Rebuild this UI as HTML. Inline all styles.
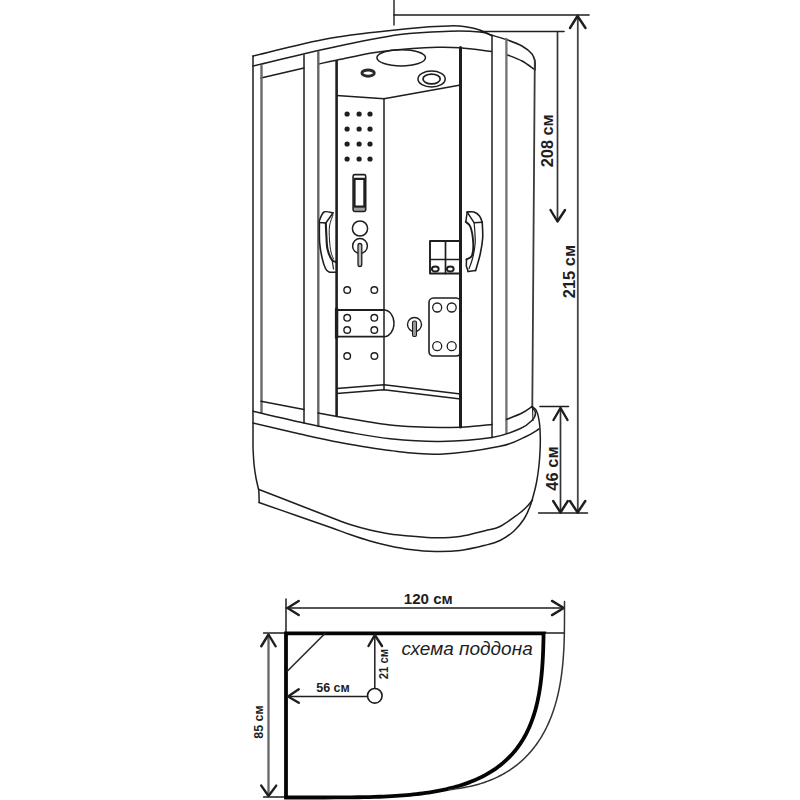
<!DOCTYPE html>
<html><head><meta charset="utf-8"><title>shower</title>
<style>
html,body{margin:0;padding:0;background:#fff;}
body{width:800px;height:800px;overflow:hidden;}
svg{display:block;font-family:"Liberation Sans",sans-serif;}
</style></head>
<body>
<svg width="800" height="800" viewBox="0 0 800 800" stroke-linecap="round" stroke-linejoin="round">
<rect width="800" height="800" fill="#fff"/>
<line x1="394" y1="0" x2="394" y2="25" stroke="#1e1e1e" stroke-width="1.4"/>
<line x1="394" y1="15" x2="589" y2="15" stroke="#1e1e1e" stroke-width="1.6"/>
<line x1="481" y1="31.5" x2="564" y2="31.5" stroke="#1e1e1e" stroke-width="1.6"/>
<line x1="577.8" y1="15" x2="577.8" y2="513" stroke="#444" stroke-width="1.8"/>
<path d="M570.00,28.00 L577.50,16.00 L585.50,28.00" stroke="#1e1e1e" stroke-width="2.4" fill="none" />
<line x1="557.5" y1="31.5" x2="557.5" y2="221" stroke="#333" stroke-width="1.7"/>
<path d="M550.50,210.00 L557.50,221.50 L565.00,210.00" stroke="#1e1e1e" stroke-width="2.4" fill="none" />
<line x1="540" y1="406.5" x2="568.5" y2="406.5" stroke="#1e1e1e" stroke-width="1.6"/>
<line x1="560.5" y1="407" x2="560.5" y2="513" stroke="#333" stroke-width="1.7"/>
<path d="M553.50,420.00 L560.50,408.00 L567.50,420.00" stroke="#1e1e1e" stroke-width="2.4" fill="none" />
<line x1="538.6" y1="513" x2="587.5" y2="513" stroke="#1e1e1e" stroke-width="1.6"/>
<path d="M553.20,501.00 L560.50,512.50 L567.80,501.00" stroke="#1e1e1e" stroke-width="2.4" fill="none" />
<path d="M570.00,501.00 L577.60,512.50 L585.30,501.00" stroke="#1e1e1e" stroke-width="2.4" fill="none" />
<text x="547.3" y="140.8" font-size="16.5" font-weight="bold" font-style="normal" text-anchor="middle" dominant-baseline="central" fill="#1e1e1e" transform="rotate(-90 547.3 140.8)" textLength="53" lengthAdjust="spacingAndGlyphs">208 см</text>
<text x="568.5" y="271.5" font-size="16.5" font-weight="bold" font-style="normal" text-anchor="middle" dominant-baseline="central" fill="#1e1e1e" transform="rotate(-90 568.5 271.5)" >215 см</text>
<text x="551.8" y="468.5" font-size="16.5" font-weight="bold" font-style="normal" text-anchor="middle" dominant-baseline="central" fill="#1e1e1e" transform="rotate(-90 551.8 468.5)" >46 см</text>
<path d="M253.00,56.00 C265.83,53.03 303.83,42.80 330.00,38.20 C356.17,33.60 390.00,30.45 410.00,28.40 C430.00,26.35 440.50,26.15 450.00,25.90 C459.50,25.65 461.93,26.18 467.00,26.90 C472.07,27.62 476.30,28.75 480.40,30.20 C484.50,31.65 489.73,34.70 491.60,35.60" stroke="#1e1e1e" stroke-width="1.5" fill="none" />
<path d="M253.00,66.00 C265.83,63.00 305.50,53.23 330.00,48.00 C354.50,42.77 380.00,37.39 400.00,34.60 C420.00,31.81 436.67,31.68 450.00,31.25 C463.33,30.82 473.17,31.38 480.00,32.00 C486.83,32.62 489.17,34.50 491.00,35.00" stroke="#1e1e1e" stroke-width="1.5" fill="none" />
<path d="M491.00,35.00 C493.67,35.79 501.83,37.92 507.00,39.75 C512.17,41.58 517.83,43.62 522.00,46.00 C526.17,48.38 529.83,51.33 532.00,54.00 C534.17,56.67 534.50,59.33 535.00,62.00 C535.50,64.67 535.00,68.67 535.00,70.00" stroke="#1e1e1e" stroke-width="1.5" fill="none" />
<path d="M507.00,54.75 C509.50,55.79 517.42,58.54 522.00,61.00 C526.58,63.46 532.42,68.08 534.50,69.50" stroke="#1e1e1e" stroke-width="1.5" fill="none" />
<path d="M318.50,64.00 C321.67,63.33 328.08,61.92 337.50,60.00 C346.92,58.08 362.50,54.42 375.00,52.50 C387.50,50.58 402.08,49.37 412.50,48.50 C422.92,47.63 429.58,47.42 437.50,47.30 C445.42,47.18 451.00,47.10 460.00,47.80 C469.00,48.50 486.25,50.88 491.50,51.50" stroke="#1e1e1e" stroke-width="1.5" fill="none" />
<line x1="261" y1="78" x2="304" y2="68" stroke="#1e1e1e" stroke-width="1.5"/>
<path d="M253,56 L253,448  C253.17,450.67 253.50,459.00 254.00,464.00 C254.50,469.00 255.23,473.75 256.00,478.00 C256.77,482.25 258.17,487.58 258.60,489.50" stroke="#1e1e1e" stroke-width="1.5" fill="none" />
<line x1="261.5" y1="66" x2="261.5" y2="412.5" stroke="#6a6a6a" stroke-width="2.4"/>
<line x1="304" y1="55" x2="304" y2="423" stroke="#1e1e1e" stroke-width="1.5"/>
<line x1="318.3" y1="52" x2="318.3" y2="426" stroke="#666" stroke-width="2.4"/>
<line x1="336.6" y1="61" x2="336.6" y2="416" stroke="#1e1e1e" stroke-width="2.6"/>
<line x1="384" y1="98.5" x2="384" y2="389" stroke="#1e1e1e" stroke-width="1.5"/>
<line x1="460.5" y1="47.5" x2="460.5" y2="427" stroke="#1e1e1e" stroke-width="3.0"/>
<line x1="492" y1="35.5" x2="492" y2="437.5" stroke="#1e1e1e" stroke-width="1.5"/>
<line x1="506.4" y1="39" x2="506.4" y2="433" stroke="#707070" stroke-width="2.3"/>
<line x1="534.8" y1="60" x2="532.3" y2="407" stroke="#3a3a3a" stroke-width="1.8"/>
<line x1="261" y1="401.2" x2="304" y2="409.4" stroke="#1e1e1e" stroke-width="1.5"/>
<path d="M336.60,95.60 L384.00,98.70 L460.60,85.00" stroke="#1e1e1e" stroke-width="1.5" fill="none" />
<path d="M336.60,388.50 L384.00,384.80 L460.60,394.00" stroke="#1e1e1e" stroke-width="1.5" fill="none" />
<path d="M336.60,393.50 L384.00,389.80 L460.60,399.00" stroke="#1e1e1e" stroke-width="1.5" fill="none" />
<ellipse cx="401.2" cy="57.8" rx="24.3" ry="8.1" stroke="#1e1e1e" stroke-width="1.5" fill="none"/>
<ellipse cx="368.1" cy="73.1" rx="6.2" ry="3.1" stroke="#2a2a2a" stroke-width="2.9" fill="none"/>
<ellipse cx="431.6" cy="79" rx="13.6" ry="7.9" stroke="#1e1e1e" stroke-width="1.5" fill="none"/>
<ellipse cx="431.6" cy="79" rx="8.6" ry="4.8" stroke="#1e1e1e" stroke-width="1.7" fill="none"/>
<path d="M253.00,411.20 C261.50,413.17 287.83,419.45 304.00,423.00 C320.17,426.55 335.67,429.88 350.00,432.50 C364.33,435.12 375.00,437.25 390.00,438.75 C405.00,440.25 423.00,441.71 440.00,441.50 C457.00,441.29 478.67,439.62 492.00,437.50 C505.33,435.38 513.33,431.58 520.00,428.75 C526.67,425.92 529.42,423.12 532.00,420.50 C534.58,417.88 535.50,415.25 535.50,413.00 C535.50,410.75 532.58,408.00 532.00,407.00" stroke="#1e1e1e" stroke-width="1.5" fill="none" />
<path d="M253.00,423.00 C260.83,424.83 285.50,430.75 300.00,434.00 C314.50,437.25 325.00,439.73 340.00,442.50 C355.00,445.27 373.33,448.65 390.00,450.60 C406.67,452.55 421.67,454.92 440.00,454.20 C458.33,453.48 485.83,449.17 500.00,446.30 C514.17,443.43 518.50,439.88 525.00,437.00 C531.50,434.12 536.67,430.33 539.00,429.00" stroke="#1e1e1e" stroke-width="1.5" fill="none" />
<path d="M318.00,413.00 C321.67,413.67 332.17,415.63 340.00,417.00 C347.83,418.37 356.67,419.87 365.00,421.20 C373.33,422.53 381.67,424.07 390.00,425.00 C398.33,425.93 406.67,426.40 415.00,426.80 C423.33,427.20 431.67,427.37 440.00,427.40 C448.33,427.43 456.33,427.50 465.00,427.00 C473.67,426.50 487.50,424.83 492.00,424.40" stroke="#1e1e1e" stroke-width="1.5" fill="none" />
<path d="M506.50,419.50 C509.08,418.42 517.75,415.17 522.00,413.00 C526.25,410.83 530.33,407.58 532.00,406.50" stroke="#1e1e1e" stroke-width="1.5" fill="none" />
<line x1="532.5" y1="408" x2="533" y2="420.5" stroke="#1e1e1e" stroke-width="1.1"/>
<path d="M532.00,406.50 C532.75,407.25 535.28,408.42 536.50,411.00 C537.72,413.58 538.67,417.67 539.30,422.00 C539.93,426.33 540.18,432.00 540.30,437.00 C540.42,442.00 540.25,447.00 540.00,452.00 C539.75,457.00 539.37,462.00 538.80,467.00 C538.23,472.00 537.48,477.33 536.60,482.00 C535.72,486.67 534.63,490.83 533.50,495.00 C532.37,499.17 531.38,503.00 529.80,507.00 C528.22,511.00 526.63,515.00 524.00,519.00 C521.37,523.00 518.00,527.42 514.00,531.00 C510.00,534.58 504.83,538.12 500.00,540.50 C495.17,542.88 491.67,543.63 485.00,545.30 C478.33,546.97 468.33,549.47 460.00,550.50 C451.67,551.53 443.33,551.67 435.00,551.50 C426.67,551.33 417.50,550.42 410.00,549.50 C402.50,548.58 396.67,547.42 390.00,546.00 C383.33,544.58 376.67,542.92 370.00,541.00 C363.33,539.08 356.67,536.80 350.00,534.50 C343.33,532.20 338.83,530.32 330.00,527.20 C321.17,524.08 308.83,519.92 297.00,515.80 C285.17,511.68 265.33,504.72 259.00,502.50" stroke="#1e1e1e" stroke-width="1.5" fill="none" />
<path d="M532.50,500.00 C531.42,501.25 528.35,505.17 526.00,507.50 C523.65,509.83 522.73,510.83 518.40,514.00 C514.07,517.17 505.57,523.72 500.00,526.50 C494.43,529.28 491.67,529.03 485.00,530.70 C478.33,532.37 468.33,535.32 460.00,536.50 C451.67,537.68 443.33,537.88 435.00,537.80 C426.67,537.72 417.50,536.63 410.00,536.00 C402.50,535.37 396.67,535.00 390.00,534.00 C383.33,533.00 376.67,531.58 370.00,530.00 C363.33,528.42 355.83,526.33 350.00,524.50 C344.17,522.67 343.83,522.37 335.00,519.00 C326.17,515.63 309.67,509.22 297.00,504.30 C284.33,499.38 265.33,491.97 259.00,489.50" stroke="#1e1e1e" stroke-width="1.5" fill="none" />
<line x1="258.8" y1="489.5" x2="259.2" y2="502.5" stroke="#1e1e1e" stroke-width="1.5"/>
<circle cx="347.1" cy="114" r="2.6" stroke="#1e1e1e" stroke-width="0" fill="#1e1e1e"/>
<circle cx="359.1" cy="114" r="2.6" stroke="#1e1e1e" stroke-width="0" fill="#1e1e1e"/>
<circle cx="370" cy="114" r="2.6" stroke="#1e1e1e" stroke-width="0" fill="#1e1e1e"/>
<circle cx="347.1" cy="129" r="2.6" stroke="#1e1e1e" stroke-width="0" fill="#1e1e1e"/>
<circle cx="359.1" cy="129" r="2.6" stroke="#1e1e1e" stroke-width="0" fill="#1e1e1e"/>
<circle cx="370" cy="129" r="2.6" stroke="#1e1e1e" stroke-width="0" fill="#1e1e1e"/>
<circle cx="347.1" cy="144" r="2.6" stroke="#1e1e1e" stroke-width="0" fill="#1e1e1e"/>
<circle cx="359.1" cy="144" r="2.6" stroke="#1e1e1e" stroke-width="0" fill="#1e1e1e"/>
<circle cx="370" cy="144" r="2.6" stroke="#1e1e1e" stroke-width="0" fill="#1e1e1e"/>
<circle cx="347.1" cy="159" r="2.6" stroke="#1e1e1e" stroke-width="0" fill="#1e1e1e"/>
<circle cx="359.1" cy="159" r="2.6" stroke="#1e1e1e" stroke-width="0" fill="#1e1e1e"/>
<circle cx="370" cy="159" r="2.6" stroke="#1e1e1e" stroke-width="0" fill="#1e1e1e"/>
<rect x="354" y="207.5" width="11" height="2.8" fill="#a0a0a0"/>
<rect x="353.1" y="174.6" width="12.6" height="36.8" rx="1.6" stroke="#1e1e1e" stroke-width="1.6" fill="none"/>
<rect x="354.5" y="178.9" width="9.9" height="27.8" stroke="#1e1e1e" stroke-width="2.2" fill="none"/>
<circle cx="360" cy="228.5" r="7.6" stroke="#1e1e1e" stroke-width="1.5" fill="none"/>
<circle cx="360" cy="246" r="7.4" stroke="#1e1e1e" stroke-width="1.5" fill="none"/>
<rect x="358" y="243.5" width="3.8" height="23" rx="1.9" stroke="#1e1e1e" stroke-width="1.3" fill="#bbb"/>
<circle cx="347.2" cy="290" r="3.3" stroke="#1e1e1e" stroke-width="1.4" fill="none"/>
<circle cx="374.3" cy="290" r="3.3" stroke="#1e1e1e" stroke-width="1.4" fill="none"/>
<circle cx="347.2" cy="317.8" r="3.3" stroke="#1e1e1e" stroke-width="1.4" fill="none"/>
<circle cx="374.3" cy="317.8" r="3.3" stroke="#1e1e1e" stroke-width="1.4" fill="none"/>
<circle cx="347.2" cy="330" r="3.3" stroke="#1e1e1e" stroke-width="1.4" fill="none"/>
<circle cx="374.3" cy="330" r="3.3" stroke="#1e1e1e" stroke-width="1.4" fill="none"/>
<circle cx="347.2" cy="356" r="3.3" stroke="#1e1e1e" stroke-width="1.4" fill="none"/>
<circle cx="374.4" cy="356" r="3.3" stroke="#1e1e1e" stroke-width="1.4" fill="none"/>
<path d="M336.6,310 L384,310" stroke="#1e1e1e" stroke-width="1.8" fill="none" />
<path d="M336.6,336.6 L384,336.6" stroke="#1e1e1e" stroke-width="1.8" fill="none" />
<path d="M384,310 A10,13.3 0 0 1 384,336.6" stroke="#1e1e1e" stroke-width="1.4" fill="none" />
<line x1="336.6" y1="309" x2="336.6" y2="337.5" stroke="#1e1e1e" stroke-width="3.4"/>
<path d="M333.00,212.80 C331.50,212.67 326.27,210.72 324.00,212.00 C321.73,213.28 320.17,219.08 319.40,220.50" stroke="#1e1e1e" stroke-width="1.5" fill="none" />
<path d="M319.40,220.80 L319.40,222.50 L325.80,223.00" stroke="#1e1e1e" stroke-width="1.5" fill="none" />
<path d="M325.80,223.00 L333.00,213.00" stroke="#1e1e1e" stroke-width="1.5" fill="none" />
<path d="M319.40,222.50 C319.43,225.83 319.13,236.52 319.60,242.50 C320.07,248.48 321.22,254.07 322.20,258.40 C323.18,262.73 324.37,266.23 325.50,268.50 C326.63,270.77 327.15,271.38 329.00,272.00 C330.85,272.62 335.33,272.17 336.60,272.20" stroke="#1e1e1e" stroke-width="1.6" fill="none" />
<path d="M325.80,223.00 C325.90,225.17 326.12,231.67 326.40,236.00 C326.68,240.33 326.57,245.00 327.50,249.00 C328.43,253.00 330.48,257.83 332.00,260.00 C333.52,262.17 335.83,261.67 336.60,262.00" stroke="#1e1e1e" stroke-width="2.1" fill="none" />
<path d="M333.00,215.00 C332.42,216.83 330.08,221.83 329.50,226.00 C328.92,230.17 329.25,235.67 329.50,240.00 C329.75,244.33 330.33,248.83 331.00,252.00 C331.67,255.17 333.08,257.83 333.50,259.00" stroke="#1e1e1e" stroke-width="1.0" fill="none" />
<path d="M332.00,259.50 L333.50,269.00" stroke="#1e1e1e" stroke-width="1.2" fill="none" />
<path d="M467.20,212.00 C468.33,212.00 471.95,211.33 474.00,212.00 C476.05,212.67 478.13,214.28 479.50,216.00 C480.87,217.72 481.75,221.25 482.20,222.30" stroke="#1e1e1e" stroke-width="1.6" fill="none" />
<path d="M482.20,222.30 L474.20,222.80 L467.20,212.20" stroke="#1e1e1e" stroke-width="1.5" fill="none" />
<path d="M467.20,212.00 L465.80,221.90" stroke="#1e1e1e" stroke-width="1.5" fill="none" />
<path d="M465.80,221.90 C466.58,222.75 469.27,223.57 470.50,227.00 C471.73,230.43 472.95,237.73 473.20,242.50 C473.45,247.27 473.12,252.78 472.00,255.60 C470.88,258.42 467.42,258.77 466.50,259.40" stroke="#1e1e1e" stroke-width="1.9" fill="none" />
<path d="M466.50,259.40 L466.30,266.00 L468.10,271.60" stroke="#1e1e1e" stroke-width="1.5" fill="none" />
<path d="M482.20,222.30 C482.28,224.88 483.02,232.56 482.70,237.80 C482.38,243.04 481.48,248.28 480.30,253.75 C479.12,259.22 476.38,267.79 475.60,270.60" stroke="#1e1e1e" stroke-width="1.6" fill="none" />
<path d="M475.60,270.60 L468.10,271.60" stroke="#1e1e1e" stroke-width="1.5" fill="none" />
<path d="M474.20,222.80 C474.37,226.08 475.43,236.72 475.20,242.50 C474.97,248.28 473.83,253.12 472.80,257.50 C471.77,261.88 469.63,266.88 469.00,268.75" stroke="#1e1e1e" stroke-width="1.2" fill="none" />
<rect x="430" y="241" width="30.6" height="32.5" stroke="#1e1e1e" stroke-width="1.9" fill="none"/>
<line x1="445.5" y1="241" x2="445.5" y2="273.5" stroke="#1e1e1e" stroke-width="1.7"/>
<line x1="430" y1="259.5" x2="460.6" y2="259.5" stroke="#1e1e1e" stroke-width="1.7"/>
<ellipse cx="435.3" cy="269" rx="3.4" ry="2.5" stroke="#1e1e1e" stroke-width="1.9" fill="none"/>
<ellipse cx="450.3" cy="269" rx="3.4" ry="2.5" stroke="#1e1e1e" stroke-width="1.9" fill="none"/>
<rect x="429" y="298" width="31.6" height="58" rx="4.5" stroke="#1e1e1e" stroke-width="1.6" fill="none"/>
<circle cx="437.2" cy="307.5" r="4.5" stroke="#1e1e1e" stroke-width="1.3" fill="none"/>
<circle cx="451.7" cy="307.5" r="4.5" stroke="#1e1e1e" stroke-width="1.3" fill="none"/>
<circle cx="437.2" cy="346.2" r="4.5" stroke="#1e1e1e" stroke-width="1.3" fill="none"/>
<circle cx="451.7" cy="346.2" r="4.5" stroke="#1e1e1e" stroke-width="1.3" fill="none"/>
<circle cx="414.5" cy="324.5" r="7" stroke="#1e1e1e" stroke-width="1.4" fill="none"/>
<rect x="412.5" y="321" width="4" height="15.5" rx="1.5" stroke="#1e1e1e" stroke-width="1.1" fill="#999"/>
<line x1="286" y1="599" x2="286" y2="633" stroke="#1e1e1e" stroke-width="1.5"/>
<line x1="286" y1="608" x2="564" y2="608" stroke="#1e1e1e" stroke-width="1.6"/>
<path d="M298.75,601.00 L287.50,608.00 L298.75,615.00" stroke="#1e1e1e" stroke-width="2.4" fill="none" />
<path d="M552.00,600.90 L563.80,608.00 L552.00,615.10" stroke="#1e1e1e" stroke-width="2.4" fill="none" />
<line x1="263.5" y1="633" x2="286" y2="633" stroke="#1e1e1e" stroke-width="1.3"/>
<line x1="263.5" y1="797" x2="286" y2="797" stroke="#1e1e1e" stroke-width="1.3"/>
<line x1="268.5" y1="633" x2="268.5" y2="797" stroke="#666" stroke-width="2.3"/>
<path d="M261.25,646.25 L268.50,634.50 L275.60,646.25" stroke="#1e1e1e" stroke-width="2.4" fill="none" />
<path d="M261.25,785.60 L268.50,796.00 L276.25,785.60" stroke="#1e1e1e" stroke-width="2.4" fill="none" />
<line x1="544" y1="633" x2="564.5" y2="633" stroke="#1e1e1e" stroke-width="1.3"/>
<text x="428.25" y="598.8" font-size="14.3" font-weight="bold" font-style="normal" text-anchor="middle" dominant-baseline="central" fill="#1e1e1e" textLength="49" lengthAdjust="spacingAndGlyphs">120 см</text>
<text x="258.5" y="722" font-size="12.5" font-weight="bold" font-style="normal" text-anchor="middle" dominant-baseline="central" fill="#1e1e1e" transform="rotate(-90 258.5 722)" >85 см</text>
<text x="333" y="687.5" font-size="12.5" font-weight="bold" font-style="normal" text-anchor="middle" dominant-baseline="central" fill="#1e1e1e" >56 см</text>
<text x="384" y="664" font-size="12" font-weight="bold" font-style="normal" text-anchor="middle" dominant-baseline="central" fill="#1e1e1e" transform="rotate(-90 384 664)" textLength="30.5" lengthAdjust="spacingAndGlyphs">21 см</text>
<text x="401.5" y="655.3" font-size="19" font-style="italic" fill="#1e1e1e">схема поддона</text>
<path d="M286.00,797.50 L286.00,633.30 L543.75,633.30 L543.57,633.92 L543.48,639.39 L543.35,644.36 L543.21,648.94 L543.05,653.22 L542.86,657.24 L542.65,661.06 L542.42,664.69 L542.17,668.16 L541.89,671.49 L541.59,674.70 L541.27,677.79 L540.93,680.78 L540.57,683.68 L540.18,686.49 L539.77,689.22 L539.34,691.88 L538.89,694.46 L538.41,696.98 L537.92,699.44 L537.40,701.84 L536.85,704.18 L536.29,706.47 L535.70,708.71 L535.09,710.91 L534.46,713.06 L533.80,715.16 L533.12,717.22 L532.42,719.24 L531.70,721.22 L530.95,723.16 L530.18,725.07 L529.39,726.94 L528.57,728.77 L527.73,730.57 L526.86,732.34 L525.98,734.07 L525.07,735.78 L524.13,737.45 L523.17,739.09 L522.19,740.71 L521.19,742.29 L520.16,743.85 L519.10,745.37 L518.02,746.88 L516.92,748.35 L515.79,749.80 L514.64,751.22 L513.46,752.62 L512.26,753.99 L511.03,755.33 L509.77,756.65 L508.49,757.95 L507.19,759.22 L505.85,760.47 L504.49,761.70 L503.11,762.90 L501.69,764.08 L500.25,765.24 L498.79,766.37 L497.29,767.49 L495.77,768.58 L494.22,769.64 L492.63,770.69 L491.02,771.71 L489.38,772.72 L487.71,773.70 L486.01,774.66 L484.28,775.60 L482.52,776.52 L480.72,777.41 L478.89,778.29 L477.03,779.15 L475.14,779.98 L473.21,780.80 L471.24,781.60 L469.24,782.37 L467.20,783.13 L465.13,783.86 L463.01,784.58 L460.86,785.27 L458.66,785.95 L456.42,786.60 L454.14,787.24 L451.82,787.86 L449.44,788.45 L447.02,789.03 L444.55,789.59 L442.03,790.13 L439.45,790.65 L436.82,791.15 L434.13,791.63 L431.38,792.09 L428.56,792.53 L425.67,792.96 L422.71,793.36 L419.67,793.75 L416.55,794.11 L413.35,794.46 L410.05,794.79 L406.64,795.10 L403.13,795.39 L399.50,795.66 L395.73,795.92 L391.81,796.15 L387.73,796.37 L383.47,796.56 L378.99,796.74 L374.26,796.90 L369.24,797.04 L363.85,797.16 L358.02,797.27 L351.60,797.35 L344.35,797.42 L335.83,797.46 L324.88,797.49 L300.00,797.50 L286.00,797.50 Z" stroke="#050505" stroke-width="3.8" fill="none" stroke-linejoin="miter"/>
<path d="M564.50,601.50 L564.50,612.00 L564.49,620.09 L564.46,625.27 L564.41,629.72 L564.35,633.76 L564.26,637.52 L564.16,641.06 L564.04,644.44 L563.89,647.67 L563.73,650.79 L563.55,653.80 L563.36,656.73 L563.14,659.57 L562.90,662.35 L562.65,665.06 L562.37,667.70 L562.08,670.29 L561.77,672.83 L561.44,675.32 L561.09,677.77 L560.72,680.17 L560.33,682.52 L559.93,684.84 L559.50,687.12 L559.06,689.37 L558.60,691.58 L558.12,693.75 L557.62,695.89 L557.10,698.00 L556.56,700.08 L556.01,702.13 L555.43,704.15 L554.84,706.14 L554.22,708.11 L553.59,710.04 L552.94,711.95 L552.28,713.83 L551.59,715.69 L550.88,717.52 L550.16,719.32 L549.41,721.10 L548.65,722.86 L547.87,724.59 L547.07,726.29 L546.25,727.97 L545.42,729.63 L544.56,731.27 L543.69,732.88 L542.80,734.46 L541.88,736.03 L540.95,737.57 L540.01,739.09 L539.04,740.58 L538.05,742.06 L537.05,743.51 L536.02,744.94 L534.98,746.34 L533.92,747.73 L532.84,749.09 L531.74,750.43 L530.62,751.75 L529.48,753.04 L528.33,754.32 L527.15,755.57 L525.96,756.80 L524.74,758.01 L523.51,759.19 L522.26,760.36 L520.99,761.50 L519.69,762.62 L518.38,763.72 L517.05,764.80 L515.70,765.85 L514.33,766.89 L512.94,767.90 L511.53,768.89 L510.10,769.86 L508.65,770.81 L507.18,771.73 L505.68,772.64 L504.17,773.52 L502.63,774.38 L501.08,775.22 L499.50,776.04 L497.89,776.84 L496.27,777.61 L494.62,778.36 L492.95,779.09 L491.26,779.80 L489.54,780.49 L487.80,781.16 L486.03,781.80 L484.23,782.42 L482.41,783.03 L480.56,783.60 L478.68,784.16 L476.78,784.70 L474.84,785.21 L472.87,785.70 L470.87,786.17 L468.84,786.62 L466.76,787.05 L464.66,787.45 L462.51,787.84 L460.32,788.20 L458.08,788.54 L455.79,788.85 L453.46,789.15 L451.06,789.42 L448.61,789.67" stroke="#333" stroke-width="1.5" fill="none" />
<line x1="325" y1="633.5" x2="286.5" y2="672" stroke="#1e1e1e" stroke-width="1.5"/>
<line x1="374.8" y1="688.3" x2="374.8" y2="634" stroke="#1e1e1e" stroke-width="1.5"/>
<path d="M368.50,646.00 L374.80,635.00 L382.00,646.00" stroke="#1e1e1e" stroke-width="2.4" fill="none" />
<circle cx="374.8" cy="695.8" r="7.3" stroke="#1e1e1e" stroke-width="1.6" fill="#fff"/>
<line x1="367.5" y1="696.5" x2="287" y2="696.5" stroke="#1e1e1e" stroke-width="1.5"/>
<path d="M298.75,689.30 L288.00,696.50 L298.75,702.80" stroke="#1e1e1e" stroke-width="2.4" fill="none" />
</svg>
</body></html>
